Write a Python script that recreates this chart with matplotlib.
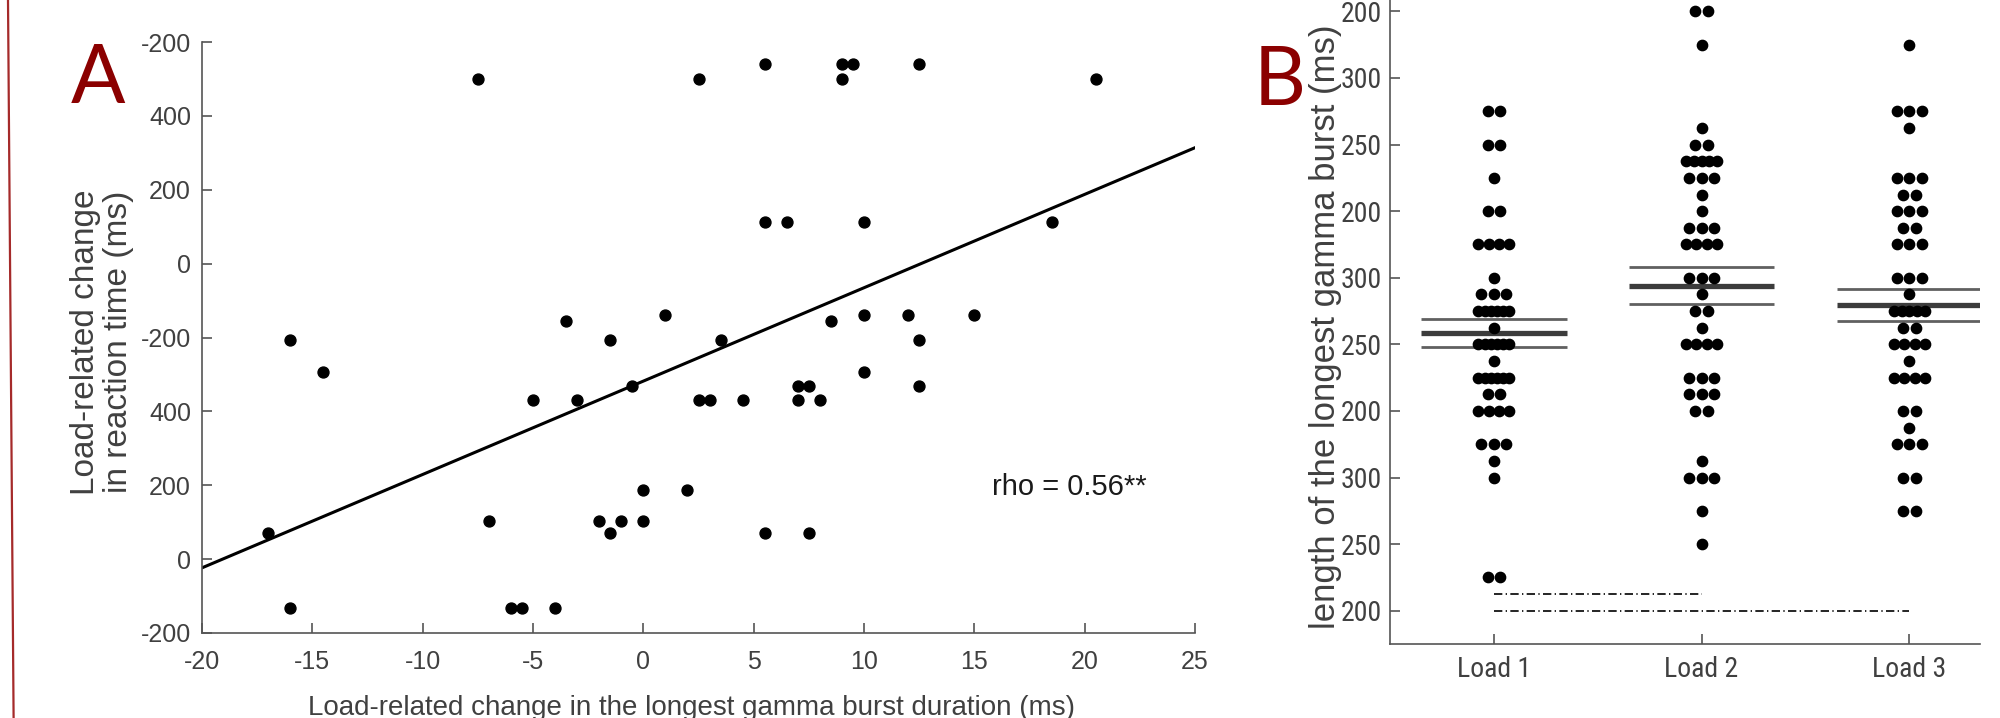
import numpy as np
import matplotlib
matplotlib.use('Agg')
import matplotlib.pyplot as plt
from matplotlib.lines import Line2D

# ---------------- PANEL A DATA ----------------
# y values are in tick steps (0 = bottom tick, 8 = top tick), labels below
gamma_change = [-7.5, 2.5, 9, 20.5,
                5.5, 9, 9.5, 12.5,
                5.5, 6.5, 10, 18.5,
                1, 10, 12, 15,
                8.5, -3.5,
                -16, -1.5, 3.5, 12.5,
                -14.5, 10,
                -0.5, 7, 7.5, 12.5,
                -5, -3, 2.5, 3, 4.5, 7, 8,
                0, 2,
                -7, -2, -1, 0,
                -17, -1.5, 5.5, 7.5,
                -16, -6, -5.5, -4]
rt_change = [7.5, 7.5, 7.5, 7.5,
             7.7, 7.7, 7.7, 7.7,
             5.56, 5.56, 5.56, 5.56,
             4.3, 4.3, 4.3, 4.3,
             4.23, 4.22,
             3.97, 3.97, 3.97, 3.97,
             3.53, 3.53,
             3.34, 3.34, 3.34, 3.34,
             3.16, 3.16, 3.16, 3.16, 3.16, 3.16, 3.16,
             1.93, 1.93,
             1.51, 1.51, 1.51, 1.51,
             1.36, 1.36, 1.36, 1.36,
             0.34, 0.34, 0.34, 0.34]
fit_slope = 0.1264
fit_icept = 3.41
rho_text = 'rho = 0.56**'
a_xticks = [-20, -15, -10, -5, 0, 5, 10, 15, 20, 25]
a_ylabels = ['-200', '0', '200', '400', '-200', '0', '200', '400', '-200']

# ---------------- PANEL B DATA ----------------
loads = ['Load 1', 'Load 2', 'Load 3']
load1 = [7.5, 7.5, 7.0, 7.0, 6.5, 6.0, 6.0, 5.5, 5.5, 5.5, 5.5, 5.0,
         4.75, 4.75, 4.75, 4.5, 4.5, 4.5, 4.5, 4.5, 4.5, 4.25,
         4.0, 4.0, 4.0, 4.0, 4.0, 4.0, 3.75, 3.5, 3.5, 3.5, 3.5, 3.5, 3.5,
         3.25, 3.25, 3.0, 3.0, 3.0, 3.0, 2.5, 2.5, 2.5, 2.25, 2.0, 0.5, 0.5]
load2 = [9.0, 9.0, 8.5, 7.25, 7.0, 7.0, 6.75, 6.75, 6.75, 6.75, 6.75,
         6.5, 6.5, 6.5, 6.25, 6.0, 5.75, 5.75, 5.75, 5.5, 5.5, 5.5, 5.5,
         5.0, 5.0, 5.0, 4.75, 4.5, 4.5, 4.25, 4.0, 4.0, 4.0, 4.0,
         3.5, 3.5, 3.5, 3.25, 3.25, 3.25, 3.0, 3.0, 2.25, 2.0, 2.0, 2.0, 1.5, 1.0]
load3 = [8.5, 7.5, 7.5, 7.5, 7.25, 6.5, 6.5, 6.5, 6.25, 6.25, 6.0, 6.0, 6.0,
         5.75, 5.75, 5.5, 5.5, 5.5, 5.0, 5.0, 5.0, 4.75, 4.5, 4.5, 4.5, 4.5, 4.5,
         4.25, 4.25, 4.0, 4.0, 4.0, 4.0, 3.75, 3.5, 3.5, 3.5, 3.5,
         3.0, 3.0, 2.75, 2.5, 2.5, 2.5, 2.0, 2.0, 1.5, 1.5]
group_mean = [4.17, 4.88, 4.59]
group_sem = [0.215, 0.28, 0.24]
b_ylabels = ['200', '250', '300', '200', '250', '300', '200', '250', '300', '200']
sig_pairs = [(1, 2, 0.25), (1, 3, 0.0)]   # (from, to, height)

DARKRED = '#8B0000'
TXT = '#404040'
AXC = '#555555'
NARROW = ['Roboto Condensed', 'Liberation Sans Narrow', 'Liberation Sans']


def swarm(vals, center):
    # spread points sharing a value sideways
    vals = np.asarray(vals, dtype=float)
    xs = np.full(len(vals), float(center))
    for v in np.unique(vals):
        idx = np.where(vals == v)[0]
        n = len(idx)
        if n > 1:
            w = min(0.03 * (n - 1), 0.075)
            xs[idx] = center + np.linspace(-w, w, n)
    return xs


plt.rcParams['font.family'] = ['Liberation Sans', 'DejaVu Sans']
plt.rcParams['axes.unicode_minus'] = False
fig = plt.figure(figsize=(20, 7.18), dpi=100)

# ---------------- PANEL A ----------------
ax1 = fig.add_axes([0.101, 0.1184, 0.4965, 0.823])
ax1.scatter(gamma_change, rt_change, s=62, c='black', zorder=3, clip_on=False)
xx = np.array([a_xticks[0], a_xticks[-1]])
ax1.plot(xx, fit_icept + fit_slope * xx, 'k-', lw=2.2)
ax1.text(15.8, 1.87, rho_text, fontsize=21, ha='left', va='baseline', color='#1a1a1a')
ax1.set_xlim(a_xticks[0], a_xticks[-1])
ax1.set_ylim(0, len(a_ylabels) - 1)
ax1.set_xticks(a_xticks)
ax1.set_yticks(range(len(a_ylabels)))
ax1.set_yticklabels(a_ylabels)
for s in ['top', 'right']:
    ax1.spines[s].set_visible(False)
for s in ['left', 'bottom']:
    ax1.spines[s].set_color(AXC)
    ax1.spines[s].set_linewidth(1.2)
ax1.tick_params(direction='in', length=7, width=1.2, color=AXC,
                labelsize=18, labelcolor=TXT)
ax1.tick_params(axis='y', pad=8)
ax1.tick_params(axis='x', pad=12)
fig.text(0.346, 0.004, 'Load-related change in the longest gamma burst duration (ms)',
         fontsize=20, ha='center', va='baseline', color=TXT)
fig.text(0.051, 0.5237, 'Load-related change\nin reaction time (ms)', rotation=90,
         fontsize=24, ha='center', va='center', linespacing=1.1,
         multialignment='center', color=TXT)
fig.text(0.0355, 0.8565, 'A', fontsize=58, color=DARKRED, family='Lato',
         ha='left', va='baseline')

# ---------------- PANEL B ----------------
ax2 = fig.add_axes([0.695, 0.1031, 0.295, 0.9274])
for i, vals in enumerate([load1, load2, load3]):
    pos = i + 1
    ax2.scatter(swarm(vals, pos), vals, s=55, c='black', zorder=3, clip_on=False)
    ax2.hlines(group_mean[i], pos - 0.35, pos + 0.35, color='#3c3c3c', lw=3.8, zorder=2)
    ax2.hlines([group_mean[i] - group_sem[i], group_mean[i] + group_sem[i]],
               pos - 0.35, pos + 0.35, color='#606060', lw=2, zorder=2)
for a, b, h in sig_pairs:
    ax2.plot([a, b], [h, h], color='black', lw=1.2, linestyle=(0, (5, 2, 0.8, 2)))
ax2.set_xlim(0.5, 3.34)
ax2.set_ylim(-0.5, 9.5)
ax2.set_xticks([1, 2, 3])
ax2.set_xticklabels(loads)
ax2.set_yticks(range(len(b_ylabels)))
ax2.set_yticklabels(b_ylabels)
for s in ['top', 'right']:
    ax2.spines[s].set_visible(False)
for s in ['left', 'bottom']:
    ax2.spines[s].set_color(AXC)
    ax2.spines[s].set_linewidth(1.2)
ax2.tick_params(direction='in', length=7, width=1.2, color=AXC, labelcolor=TXT)
ax2.tick_params(axis='y', pad=6, labelsize=20)
ax2.tick_params(axis='x', pad=9, labelsize=20)
for lbl in ax2.get_xticklabels() + ax2.get_yticklabels():
    lbl.set_family(NARROW)
fig.text(0.6625, 0.545, 'length of the longest gamma burst (ms)', rotation=90,
         fontsize=25, ha='center', va='center', color=TXT)
fig.text(0.627, 0.8538, 'B', fontsize=58, color=DARKRED, family='Lato',
         ha='left', va='baseline')

# thin red frame line on the far left
fig.add_artist(Line2D([0.004, 0.0068], [1.0, 0.0], color='#a52a2a', lw=1.6,
                      transform=fig.transFigure))

fig.savefig('out.png', dpi=100)
